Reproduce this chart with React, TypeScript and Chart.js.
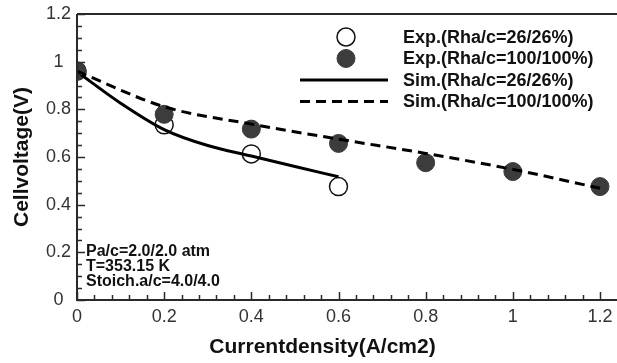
import React, { useEffect, useRef } from "react";
import { Chart, registerables } from "chart.js";

Chart.register(...registerables);

// ---- data ----
const xTickValues = [0, 0.2, 0.4, 0.6, 0.8, 1, 1.2];
const yTickValues = [0, 0.2, 0.4, 0.6, 0.8, 1, 1.2];

const expLowX = [0, 0.2, 0.4, 0.6];
const expLowY = [0.96, 0.735, 0.613, 0.476];

const expHighX = [0, 0.2, 0.4, 0.6, 0.8, 1.0, 1.2];
const expHighY = [0.961, 0.779, 0.717, 0.657, 0.576, 0.539, 0.476];

const simLowX = [0, 0.1, 0.2, 0.3, 0.4, 0.5, 0.6];
const simLowY = [0.958, 0.826, 0.715, 0.648, 0.604, 0.56, 0.517];

const simHighX = [0, 0.2, 0.4, 0.6, 0.8, 1.0, 1.2];
const simHighY = [0.96, 0.811, 0.738, 0.675, 0.615, 0.548, 0.469];

const seriesLabels = [
  "Exp.(Rha/c=26/26%)",
  "Exp.(Rha/c=100/100%)",
  "Sim.(Rha/c=26/26%)",
  "Sim.(Rha/c=100/100%)",
];

const conditionLines = ["Pa/c=2.0/2.0 atm", "T=353.15 K", "Stoich.a/c=4.0/4.0"];

const xTitle = "Currentdensity(A/cm2)";
const yTitle = "Cellvoltage(V)";

const FONT = "'Liberation Sans', Arial, sans-serif";
const zip = (xs: number[], ys: number[]) => xs.map((x, i) => ({ x, y: ys[i] }));

const framePlugin = {
  id: "frame",
  afterDraw(chart: any) {
    const { ctx, chartArea: a, scales } = chart;
    const xs = scales.x;
    const ys = scales.y;
    ctx.save();
    ctx.strokeStyle = "#2a2a2a";
    ctx.lineWidth = 2;
    ctx.beginPath();
    ctx.moveTo(a.left, a.top);
    ctx.lineTo(a.right, a.top);
    ctx.moveTo(a.left, a.top);
    ctx.lineTo(a.left, a.bottom);
    ctx.lineTo(a.right, a.bottom);
    ctx.stroke();
    ctx.lineWidth = 1.5;
    ctx.beginPath();
    // x ticks: major every 0.2, minor every 0.04
    for (let i = 0; i <= 31; i++) {
      const v = i * 0.04;
      const px = Math.round(xs.getPixelForValue(v)) + 0.5;
      if (px > a.right) break;
      const major = i % 5 === 0;
      ctx.moveTo(px, a.bottom);
      ctx.lineTo(px, a.bottom - (major ? 8 : 5));
    }
    // y ticks: major every 0.2, minor every 0.05
    for (let i = 0; i <= 24; i++) {
      const v = i * 0.05;
      const py = Math.round(ys.getPixelForValue(v)) + 0.5;
      const major = i % 4 === 0;
      ctx.moveTo(a.left, py);
      ctx.lineTo(a.left + (major ? 8 : 5), py);
    }
    ctx.stroke();

    // x-axis title (offset left of the plot-box centre, as in the original)
    ctx.fillStyle = "#111";
    ctx.font = `bold 21px ${FONT}`;
    ctx.textBaseline = "middle";
    ctx.textAlign = "center";
    ctx.fillText(xTitle, 322.5, 347.4);

    // operating conditions
    ctx.font = `bold 16px ${FONT}`;
    ctx.textAlign = "left";
    conditionLines.forEach((t, i) => {
      ctx.fillText(t, a.left + 9, a.bottom - 48 + i * 15);
    });

    // legend
    const rowY = [37, 58.5, 80, 101.5];
    const markerX = 346;
    const textX = 403;
    chart.data.datasets.forEach((ds: any) => {
      const y = rowY[ds.legendIndex];
      if (ds.showLine) {
        ctx.save();
        ctx.strokeStyle = ds.borderColor;
        ctx.lineWidth = ds.borderWidth;
        ctx.setLineDash(ds.borderDash || []);
        ctx.beginPath();
        ctx.moveTo(300, y);
        ctx.lineTo(388, y);
        ctx.stroke();
        ctx.restore();
      } else {
        ctx.save();
        ctx.beginPath();
        ctx.arc(markerX, y, ds.pointRadius, 0, Math.PI * 2);
        ctx.fillStyle = ds.pointBackgroundColor;
        ctx.fill();
        ctx.lineWidth = ds.pointBorderWidth;
        ctx.strokeStyle = ds.pointBorderColor;
        ctx.stroke();
        ctx.restore();
      }
      ctx.fillStyle = "#111";
      ctx.font = `bold 18px ${FONT}`;
      ctx.fillText(ds.label, textX, y + 1);
    });
    ctx.restore();
  },
};

export default function App() {
  const ref = useRef<HTMLCanvasElement | null>(null);
  useEffect(() => {
    if (!ref.current) return;
    const chart = new Chart(ref.current, {
      type: "scatter",
      data: {
        datasets: [
          {
            label: seriesLabels[2],
            legendIndex: 2,
            data: zip(simLowX, simLowY),
            showLine: true,
            borderColor: "#000",
            borderWidth: 3,
            pointRadius: 0,
            cubicInterpolationMode: "monotone",
            order: 0,
          } as any,
          {
            label: seriesLabels[3],
            legendIndex: 3,
            data: zip(simHighX, simHighY),
            showLine: true,
            borderColor: "#000",
            borderWidth: 3,
            borderDash: [10, 6],
            pointRadius: 0,
            cubicInterpolationMode: "monotone",
            order: 0,
          } as any,
          {
            label: seriesLabels[1],
            legendIndex: 1,
            data: zip(expHighX, expHighY),
            showLine: false,
            pointRadius: 9,
            pointBackgroundColor: "#3c3c3c",
            pointBorderColor: "#3c3c3c",
            pointBorderWidth: 1,
            order: 1,
          } as any,
          {
            label: seriesLabels[0],
            legendIndex: 0,
            data: zip(expLowX, expLowY),
            showLine: false,
            pointRadius: 9,
            pointBackgroundColor: "#fff",
            pointBorderColor: "#111",
            pointBorderWidth: 1.5,
            order: 2,
          } as any,
        ],
      },
      options: {
        animation: false,
        responsive: false,
        events: [],
        layout: { autoPadding: false, padding: { top: 14, right: 0, left: 0, bottom: 0 } },
        plugins: { legend: { display: false }, tooltip: { enabled: false } },
        scales: {
          x: {
            type: "linear",
            min: 0,
            max: 1.239,
            grid: { display: false, drawTicks: false },
            border: { display: false },
            afterBuildTicks: (s: any) => {
              s.ticks = xTickValues.map((v) => ({ value: v }));
            },
            afterFit: (s: any) => {
              s.height = 63;
              s.paddingLeft = 0;
              s.paddingRight = 0;
            },
            ticks: {
              padding: 6,
              color: "#333",
              font: { family: FONT, size: 18 },
              maxRotation: 0,
              callback: (v: any) => String(+Number(v).toFixed(2)),
            },
            title: { display: false },
          },
          y: {
            type: "linear",
            min: 0,
            max: 1.2,
            grid: { display: false, drawTicks: false },
            border: { display: false },
            afterBuildTicks: (s: any) => {
              s.ticks = yTickValues.map((v) => ({ value: v }));
            },
            afterFit: (s: any) => {
              s.width = 77;
              s.paddingTop = 0;
              s.paddingBottom = 0;
            },
            ticks: {
              padding: 6,
              crossAlign: "center",
              color: "#333",
              font: { family: FONT, size: 18 },
              callback: (v: any) => String(+Number(v).toFixed(2)),
            },
            title: {
              display: true,
              text: yTitle,
              color: "#111",
              font: { family: FONT, size: 21, weight: "bold" },
              padding: { top: 10, bottom: 0 },
            },
          },
        },
      } as any,
      plugins: [framePlugin],
    });
    return () => chart.destroy();
  }, []);
  return (
    <div style={{ position: "absolute", left: 0, top: 0, width: 617, height: 363, background: "#fff" }}>
      <canvas ref={ref} width={617} height={363} />
    </div>
  );
}
